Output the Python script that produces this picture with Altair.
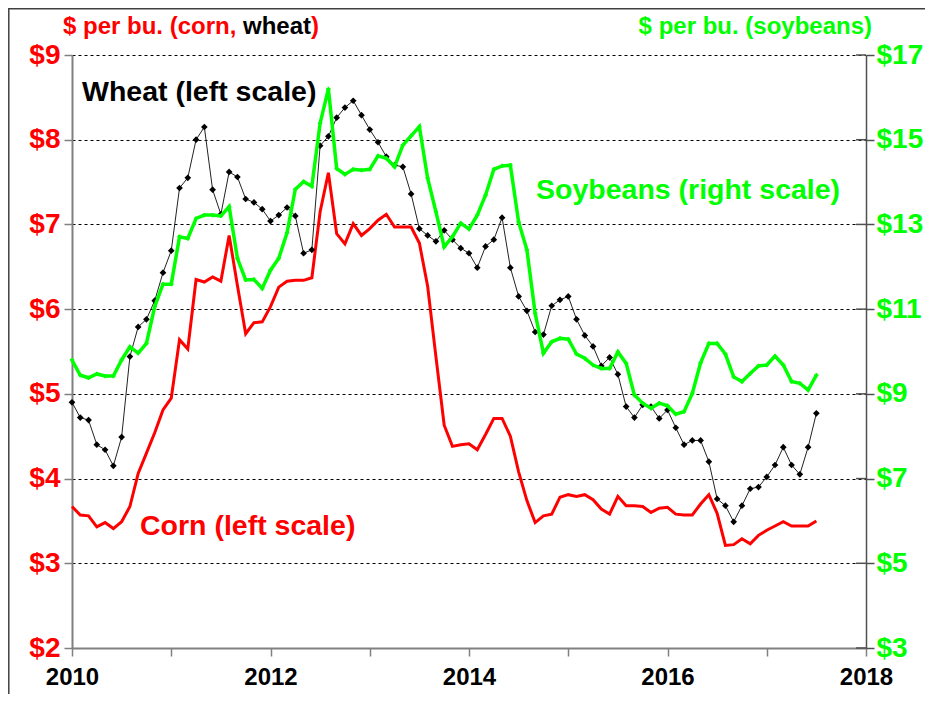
import altair as alt
import pandas as pd

# ---- data (monthly, Jan 2010 .. Jul 2017) ----
wheat = [4.90, 4.72, 4.69, 4.40, 4.34, 4.15, 4.49, 5.44, 5.79, 5.88, 6.10, 6.43,
         6.69, 7.43, 7.55, 8.00, 8.15, 7.41, 7.12, 7.62, 7.56, 7.30, 7.26, 7.18,
         7.04, 7.11, 7.20, 7.10, 6.66, 6.70, 7.93, 8.04, 8.26, 8.38, 8.46, 8.29,
         8.12, 7.97, 7.80, 7.70, 7.68, 7.36, 6.95, 6.87, 6.80, 6.93, 6.82, 6.72,
         6.66, 6.49, 6.74, 6.82, 7.08, 6.49, 6.15, 5.98, 5.73, 5.70, 6.04, 6.11,
         6.15, 5.88, 5.69, 5.56, 5.33, 5.43, 5.23, 4.85, 4.72, 4.87, 4.85, 4.71,
         4.81, 4.60, 4.40, 4.45, 4.45, 4.20, 3.76, 3.68, 3.49, 3.68, 3.88, 3.90,
         4.02, 4.16, 4.37, 4.16, 4.05, 4.37, 4.77]
corn = [3.67, 3.57, 3.56, 3.43, 3.48, 3.41, 3.49, 3.67, 4.06, 4.30, 4.54, 4.81,
        4.95, 5.64, 5.53, 6.35, 6.32, 6.38, 6.33, 6.87, 6.28, 5.71, 5.84, 5.85,
        6.03, 6.26, 6.33, 6.34, 6.34, 6.37, 7.15, 7.61, 6.89, 6.77, 7.01, 6.87,
        6.95, 7.05, 7.12, 6.97, 6.97, 6.97, 6.78, 6.27, 5.44, 4.63, 4.38, 4.40,
        4.41, 4.34, 4.52, 4.71, 4.71, 4.50, 4.08, 3.74, 3.48, 3.56, 3.58, 3.78,
        3.81, 3.79, 3.81, 3.75, 3.64, 3.58, 3.79, 3.68, 3.68, 3.67, 3.60, 3.65,
        3.66, 3.58, 3.57, 3.57, 3.70, 3.81, 3.59, 3.21, 3.22, 3.29, 3.23, 3.33,
        3.39, 3.44, 3.49, 3.44, 3.44, 3.44, 3.50]
soybeans = [9.80, 9.44, 9.38, 9.47, 9.42, 9.42, 9.80, 10.11, 9.96, 10.19, 11.06, 11.59,
            11.59, 12.71, 12.67, 13.14, 13.22, 13.22, 13.20, 13.42, 12.20, 11.69, 11.70, 11.49,
            11.92, 12.20, 12.80, 13.83, 14.01, 13.90, 15.39, 16.20, 14.32, 14.18, 14.30, 14.28,
            14.30, 14.62, 14.56, 14.36, 14.87, 15.09, 15.31, 14.09, 13.30, 12.47, 12.71, 13.03,
            12.89, 13.22, 13.69, 14.30, 14.38, 14.40, 13.06, 12.40, 10.90, 9.96, 10.23, 10.31,
            10.29, 9.94, 9.84, 9.68, 9.60, 9.60, 9.99, 9.72, 8.97, 8.78, 8.66, 8.78,
            8.72, 8.52, 8.58, 9.01, 9.73, 10.19, 10.19, 9.94, 9.40, 9.29, 9.48, 9.66,
            9.68, 9.89, 9.68, 9.29, 9.25, 9.09, 9.44]

start_year = 2010
year_ticks = [2010, 2011, 2012, 2013, 2014, 2015, 2016, 2017, 2018]
left_ticks = [2, 3, 4, 5, 6, 7, 8, 9]
right_ticks = [3, 5, 7, 9, 11, 13, 15, 17]

years = [start_year + i / 12 for i in range(len(wheat))]
df = pd.DataFrame({"year": years, "wheat": wheat, "corn": corn, "soy": soybeans})

W, H = 794, 593
FONT = "Liberation Sans, Arial, Helvetica, sans-serif"
RED = "#ff0000"
GREEN = "#00ff00"
AXIS_GREY = "#808080"

left_scale = alt.Scale(domain=[2, 9], nice=False, zero=False)
right_scale = alt.Scale(domain=[3, 17], nice=False, zero=False)

xenc = alt.X(
    "year:Q",
    scale=alt.Scale(domain=[2010, 2018], nice=False, zero=False),
    axis=alt.Axis(
        values=year_ticks, format="d",
        labelExpr="datum.value % 2 == 0 ? datum.label : ''",
        labelFlush=False, labelOverlap=False,
        title=None, grid=False, tickSize=8, tickColor=AXIS_GREY, tickWidth=1.5,
        domainColor=AXIS_GREY, domainWidth=2, labelColor="black",
        labelFont=FONT, labelFontSize=24, labelFontWeight="bold", labelPadding=9,
    ),
)

corn_line = alt.Chart(df).mark_line(color=RED, strokeWidth=3).encode(
    x=xenc,
    y=alt.Y("corn:Q", scale=left_scale, axis=alt.Axis(
        orient="left", values=left_ticks, labelExpr="'$' + datum.value", title=None,
        grid=True, gridDash=[3, 3], gridColor="black", gridWidth=1,
        tickSize=8, tickColor=AXIS_GREY, tickWidth=1.5, domainColor=AXIS_GREY, domainWidth=2,
        labelColor=RED, labelFont=FONT, labelFontSize=28, labelFontWeight="bold", labelPadding=4,
        labelFlush=False, labelOverlap=False,
    )),
)

wheat_line = alt.Chart(df).mark_line(
    color="#222222", strokeWidth=1,
    point=alt.OverlayMarkDef(shape="diamond", size=45, color="black", filled=True),
).encode(x=xenc, y=alt.Y("wheat:Q", scale=left_scale, axis=None))

soy_line = alt.Chart(df).mark_line(color=GREEN, strokeWidth=3.5).encode(
    x=xenc,
    y=alt.Y("soy:Q", scale=right_scale, axis=alt.Axis(
        orient="right", values=right_ticks, labelExpr="'$' + datum.value", title=None,
        grid=False, tickSize=8, tickColor="#505050", tickWidth=1.5,
        domainColor="#505050", domainWidth=1.5,
        labelColor=GREEN, labelFont=FONT, labelFontSize=28, labelFontWeight="bold", labelPadding=2,
        labelFlush=False, labelOverlap=False,
    )),
)

soy_pts = alt.Chart(df).mark_point(shape="cross", size=18, filled=True, color=GREEN, opacity=1).encode(
    x=xenc, y=alt.Y("soy:Q", scale=right_scale, axis=None)
)

rt_df = pd.DataFrame({"v": right_ticks})
right_inner_ticks = alt.Chart(rt_df).mark_rule(color="#505050", strokeWidth=1.5).encode(
    y=alt.Y("v:Q", scale=right_scale, axis=None),
    x=alt.value(W - 10), x2=alt.value(W),
)

frame = alt.Chart(pd.DataFrame({"f": [0]})).mark_rect(
    fill=None, stroke="#404040", strokeWidth=1.5
).encode(
    x=alt.value(-63.2), y=alt.value(-46.2), x2=alt.value(W + 80), y2=alt.value(H + 80)
)


def label(text, color, x, y, size=28.5, align="left"):
    return alt.Chart(pd.DataFrame({"t": [text]})).mark_text(
        font=FONT, fontSize=size, fontWeight="bold", color=color,
        align=align, baseline="alphabetic",
    ).encode(text="t:N", x=alt.value(x), y=alt.value(y))


labels = [
    label("Wheat (left scale)", "black", 10, 46),
    label("Soybeans (right scale)", GREEN, 464, 144),
    label("Corn (left scale)", RED, 68, 480),
    label("$ per bu. (corn, ", RED, -9, -21, size=24),
    label("wheat", "black", 171, -21, size=24),
    label(")", RED, 239, -21, size=24),
    label("$ per bu. (soybeans)", GREEN, 800, -21, size=24, align="right"),
]

chart = alt.layer(
    frame, corn_line, wheat_line, soy_line, soy_pts, right_inner_ticks, *labels
).resolve_scale(y="independent").properties(
    width=W, height=H,
    autosize=alt.AutoSizeParams(type="none"),
    padding={"left": 64, "top": 47, "right": 59, "bottom": 46},
    background="white",
).configure_view(stroke=None)

chart.save("out.html", embed_options={"renderer": "svg", "actions": False})
